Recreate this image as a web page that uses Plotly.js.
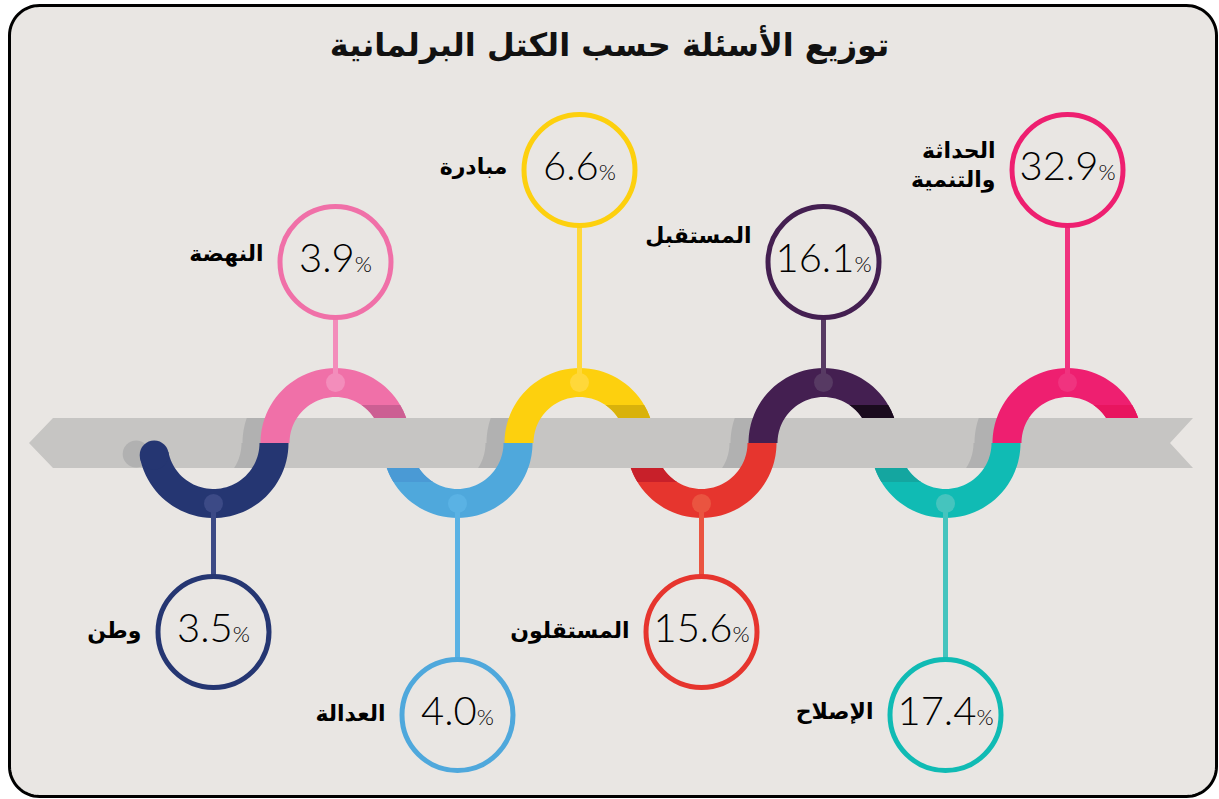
<!DOCTYPE html>
<html><head><meta charset="utf-8">
<script src="https://cdn.plot.ly/plotly-3.0.1.min.js"></script>
<style>html,body{margin:0;padding:0;background:#fff;}</style>
</head><body><div id="chart" style="width:1219px;height:799px;"></div>
<script>
// ---------- data ----------
const chartTitle = 'توزيع الأسئلة حسب الكتل البرلمانية';
const parties = ['وطن', 'النهضة', 'العدالة', 'مبادرة', 'المستقلون', 'المستقبل', 'الإصلاح', 'الحداثة<br>والتنمية'];
const shares = [3.5, 3.9, 4.0, 6.6, 15.6, 16.1, 17.4, 32.9];

// ---------- styles ----------
const mainColors  = ['#253672', '#f070a8', '#4fa8dc', '#fdd00e', '#e6352e', '#441f51', '#10bbb4', '#ee1f70'];
const shadeColors = ['#253672', '#cc5f93', '#4a9ad5', '#d9b20b', '#c8202a', '#1a0b1e', '#14a6a0', '#e8155f'];
const lightColors = ['#3c4a86', '#f38dbb', '#5ab2e4', '#ffd83a', '#ea5440', '#573a63', '#45c4be', '#f0337f'];
const BG = '#e9e6e3', RIBBON = '#c6c5c3', SHADOW = '#b1b1b1';

// ---------- geometry (pixel space) ----------
const CY = 443, RO = 75, RI = 46, RM = (RO + RI) / 2;
const X0 = 213.5, STEP = 122;
const RIB_T = 418, RIB_B = 468;
const D = 180 / Math.PI;
const n = shares.length;
const cxs = shares.map((_, i) => X0 + STEP * i);
const isUp = shares.map((_, i) => i % 2 === 1);
const isFar = shares.map((_, i) => Math.floor(i / 2) % 2 === 1);
const circleYs = shares.map((_, i) => isUp[i] ? (isFar[i] ? 170 : 262) : (isFar[i] ? 715 : 632));
const labelDy = [0, -7, 0, -2, 0, -25, -2, -3];

function P(cx, cy, r, deg) { const a = deg / D; return [cx + r * Math.cos(a), cy + r * Math.sin(a)]; }
function arc(cx, cy, r, a0, a1, k) { k = k || 48; const o = []; for (let j = 0; j <= k; j++) o.push(P(cx, cy, r, a0 + (a1 - a0) * j / k)); return o; }
function poly(pts) { return 'M' + pts.map(p => p[0].toFixed(2) + ',' + p[1].toFixed(2)).join('L') + 'Z'; }
function ring(cx, cy, ao0, ao1, ai0, ai1) { return poly(arc(cx, cy, RO, ao0, ao1).concat(arc(cx, cy, RI, ai1, ai0))); }
function roundRect(x0, y0, x1, y1, r) {
  let p = [];
  p = p.concat(arc(x1 - r, y0 + r, r, 270, 360, 16));
  p = p.concat(arc(x1 - r, y1 - r, r, 0, 90, 16));
  p = p.concat(arc(x0 + r, y1 - r, r, 90, 180, 16));
  p = p.concat(arc(x0 + r, y0 + r, r, 180, 270, 16));
  return poly(p);
}

const shapes = [];
const add = (path, fill) => shapes.push({ type: 'path', path: path, fillcolor: fill, line: { width: 0 }, layer: 'below', xref: 'x', yref: 'y' });
const dot = (cx, cy, r, fill) => shapes.push({ type: 'circle', x0: cx - r, x1: cx + r, y0: cy - r, y1: cy + r, fillcolor: fill, line: { width: 0 }, layer: 'below', xref: 'x', yref: 'y' });

// frame
shapes.push({ type: 'path', path: roundRect(9.5, 5.5, 1216.5, 796.5, 30), fillcolor: BG, line: { color: '#000', width: 3 }, layer: 'below', xref: 'x', yref: 'y' });

const aT_o = Math.asin((CY - RIB_T) / RO) * D, aT_i = Math.asin((CY - RIB_T) / RI) * D;
const aB_o = Math.asin((RIB_B - CY) / RO) * D, aB_i = Math.asin((RIB_B - CY) / RI) * D;
const uBand = 38, lBand = 39;
const aU_o = Math.asin(uBand / RO) * D, aU_i = Math.asin(uBand / RI) * D;
const aL_o = Math.asin(lBand / RO) * D, aL_i = Math.asin(lBand / RI) * D;

// arcs behind the ribbon
for (let i = 1; i < n; i++) {
  const cx = cxs[i];
  if (isUp[i]) {
    add(ring(cx, CY, 180, 360, 180, 360), mainColors[i]);
    add(ring(cx, CY, 360 - aU_o, 360, 360 - aU_i, 360), shadeColors[i]);
  } else {
    add(ring(cx, CY, 0, 180, 0, 180), mainColors[i]);
    add(ring(cx, CY, 180 - aL_o, 180, 180 - aL_i, 180), shadeColors[i]);
  }
}
// ribbon
add(poly([[29, CY], [53, RIB_T], [1193, RIB_T], [1170, CY], [1193, RIB_B], [53, RIB_B]]), RIBBON);

// shadows of the crossings over the ribbon
const SH = 18;
for (let i = 1; i < n; i += 2) {
  add(ring(cxs[i] - SH, CY, 180, 180 + aT_o, 180, 180 + aT_i), SHADOW);
  add(ring(cxs[i - 1] - SH, CY, 0, aB_o, 0, aB_i), SHADOW);
}
const endAng = 168.6;
const cap = P(cxs[0], CY, RM, endAng);
dot(cap[0] - SH, cap[1] - 1, 13.5, SHADOW);

// crossings over the ribbon
for (let i = 1; i < n; i += 2) {
  add(ring(cxs[i], CY, 180, 180 + aT_o, 180, 180 + aT_i), mainColors[i]);
  if (i - 1 > 0) add(ring(cxs[i - 1], CY, 0, aB_o, 0, aB_i), mainColors[i - 1]);
}
// first arc, fully on top, with rounded end
add(ring(cxs[0], CY, 0, endAng, 0, endAng), mainColors[0]);
dot(cap[0], cap[1], (RO - RI) / 2, mainColors[0]);

// stems and dots
const CR = 55.5;
for (let i = 0; i < n; i++) {
  const cx = cxs[i];
  const dy = isUp[i] ? CY - RM : CY + RM;
  const ey = isUp[i] ? circleYs[i] + CR : circleYs[i] - CR;
  shapes.push({ type: 'line', x0: cx, x1: cx, y0: dy, y1: ey, line: { color: lightColors[i], width: 5 }, layer: 'below', xref: 'x', yref: 'y' });
  dot(cx, dy, 9.5, lightColors[i]);
}

// ---------- traces ----------
const pctText = shares.map(v => v.toFixed(1) + '<span style="font-size:22px">%</span>');
const circles = {
  type: 'scatter', mode: 'markers+text', x: cxs, y: circleYs,
  marker: { size: 111, color: 'rgba(0,0,0,0)', line: { color: mainColors, width: 5 } },
  text: pctText, textposition: 'middle center',
  textfont: { family: 'Lato, "Open Sans", sans-serif', size: 40, color: '#000', weight: 300 },
  hoverinfo: 'skip', cliponaxis: false
};
const labels = {
  type: 'scatter', mode: 'text',
  x: cxs.map(x => x - 72), y: circleYs.map((y, i) => y + labelDy[i]),
  text: parties.map(p => '<b>' + p + '</b>'), textposition: 'middle left',
  textfont: { family: '"DejaVu Sans", sans-serif', size: 22, color: '#000' },
  hoverinfo: 'skip', cliponaxis: false
};

const layout = {
  width: 1219, height: 799,
  margin: { l: 0, r: 0, t: 0, b: 0 },
  paper_bgcolor: '#fff', plot_bgcolor: '#fff',
  showlegend: false,
  xaxis: { range: [0, 1219], visible: false, fixedrange: true },
  yaxis: { range: [799, 0], visible: false, fixedrange: true },
  shapes: shapes,
  title: { text: '<b>' + chartTitle + '</b>', font: { family: '"DejaVu Sans", sans-serif', size: 32, color: '#111' }, x: 0.5, xanchor: 'center', xref: 'paper', y: 1 - 45 / 799, yanchor: 'middle', yref: 'container' }
};
Plotly.newPlot('chart', [circles, labels], layout, { staticPlot: true });
</script></body></html>
